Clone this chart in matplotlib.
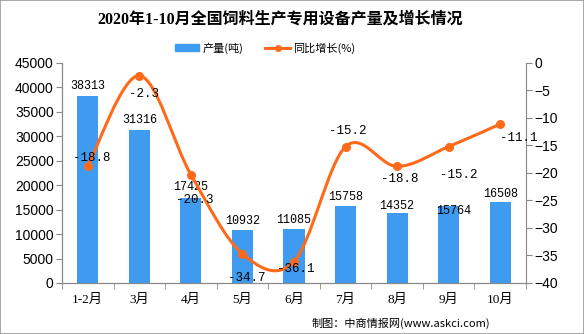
import matplotlib
matplotlib.use("Agg")
import matplotlib.pyplot as plt
from matplotlib.path import Path
from matplotlib.patches import PathPatch, Rectangle
from matplotlib.lines import Line2D
import numpy as np

plt.rcParams['font.family'] = ['Liberation Sans', 'Noto Sans CJK SC', 'DejaVu Sans']

categories = ["1-2月", "3月", "4月", "5月", "6月", "7月", "8月", "9月", "10月"]
production = [38313, 31316, 17425, 10932, 11085, 15758, 14352, 15764, 16508]
growth = [-18.8, -2.3, -20.3, -34.7, -36.1, -15.2, -18.8, -15.2, -11.1]
left_ticks = list(range(0, 45001, 5000))
right_ticks = list(range(-40, 1, 5))

# label offsets (pixels) - styling
bar_lbl_off = [(0, 10), (0, 10), (0, 11), (0, 9), (0, 9), (0, 9), (0, 7), (5, -5), (0, 8)]
line_lbl_off = [(4, 8), (5, -18), (4, -25), (4, -24), (2, -7), (2, 16), (3, -13), (10, -28), (19, -14)]

BAR = "#3E9BEF"
LINE = "#FF6A1A"
AX = "#888888"

fig = plt.figure(figsize=(5.84, 3.34), dpi=100)
fig.patches.append(Rectangle((0, 0), 1, 1, transform=fig.transFigure, fill=False,
                             edgecolor="#999999", linewidth=1.2))
ax = fig.add_axes([62/584, 1-283/334, (526-62)/584, (283-63)/334])
ax2 = ax.twinx()

x = np.arange(len(categories))
ax.bar(x, production, width=0.41, color=BAR, zorder=2)
ax.set_xlim(-0.5, len(categories) - 0.5)
ax.set_ylim(0, 45000)
ax.set_yticks(left_ticks)
ax.set_xticks(x)
ax.set_xticklabels(categories, family=['Liberation Serif', 'Noto Sans CJK SC'], fontsize=9.5)
ax.set_xticks(np.arange(-0.5, len(categories), 1.0), minor=True)
ax.tick_params(axis='x', which='major', length=0, pad=8)
ax.tick_params(axis='x', which='minor', length=4, color=AX)
ax.tick_params(axis='y', length=4, color=AX, labelsize=10, pad=2)

ax2.set_ylim(-40, 0)
ax2.set_yticks(right_ticks)
ax2.tick_params(axis='y', length=4, color=AX, labelsize=10, pad=2)

for a in (ax, ax2):
    a.spines['top'].set_visible(False)
    for s in ('left', 'right', 'bottom'):
        a.spines[s].set_color(AX)
ax.spines['right'].set_visible(False)

# smooth line (Catmull-Rom style Bezier through data points)
pts = np.column_stack([x, growth]).astype(float)
verts = [tuple(pts[0])]
codes = [Path.MOVETO]
n = len(pts)
for i in range(n - 1):
    p0 = pts[i - 1] if i > 0 else pts[i]
    p1 = pts[i]
    p2 = pts[i + 1]
    p3 = pts[i + 2] if i + 2 < n else pts[i + 1]
    c1 = p1 + (p2 - p0) / 6.0
    c2 = p2 - (p3 - p1) / 6.0
    verts += [tuple(c1), tuple(c2), tuple(p2)]
    codes += [Path.CURVE4, Path.CURVE4, Path.CURVE4]
ax2.add_patch(PathPatch(Path(verts, codes), fill=False, edgecolor=LINE, linewidth=2.2, zorder=3))
ax2.plot(x, growth, linestyle='none', marker='o', markersize=5.5, color=LINE, zorder=4)

mono = ['Liberation Mono', 'DejaVu Sans Mono']
for i, v in enumerate(production):
    dx, dy = bar_lbl_off[i]
    ax.annotate(str(v), (x[i], v), xytext=(dx, dy), textcoords='offset pixels',
                ha='center', va='center', fontsize=8.5, family=mono, zorder=5)
for i, v in enumerate(growth):
    dx, dy = line_lbl_off[i]
    ax2.annotate(f"{v:.1f}", (x[i], v), xytext=(dx, dy), textcoords='offset pixels',
                 ha='center', va='center', fontsize=9, family=mono, zorder=5)

fig.text(280/584, 1-20/334, "2020年1-10月全国饲料生产专用设备产量及增长情况",
         ha='center', va='center', fontsize=11.5, fontweight='bold',
         family=['Liberation Serif', 'Noto Sans CJK SC'])

handles = [Rectangle((0, 0), 1, 1, color=BAR),
           Line2D([0], [0], color=LINE, linewidth=2.2, marker='o', markersize=4)]
fig.legend(handles, ["产量(吨)", "同比增长(%)"], loc='center', bbox_to_anchor=(265/584, 1-48/334),
           ncol=2, frameon=False, handlelength=2.2, handleheight=0.6,
           columnspacing=2.0, handletextpad=0.3,
           prop={'family': ['Noto Sans CJK SC'], 'size': 8})

fig.text(490/584, 1-323/334, "制图：中商情报网(www.askci.com)", ha='right', va='center',
         fontsize=8, family=['Noto Sans CJK SC'])

fig.savefig("out.png", dpi=100)
